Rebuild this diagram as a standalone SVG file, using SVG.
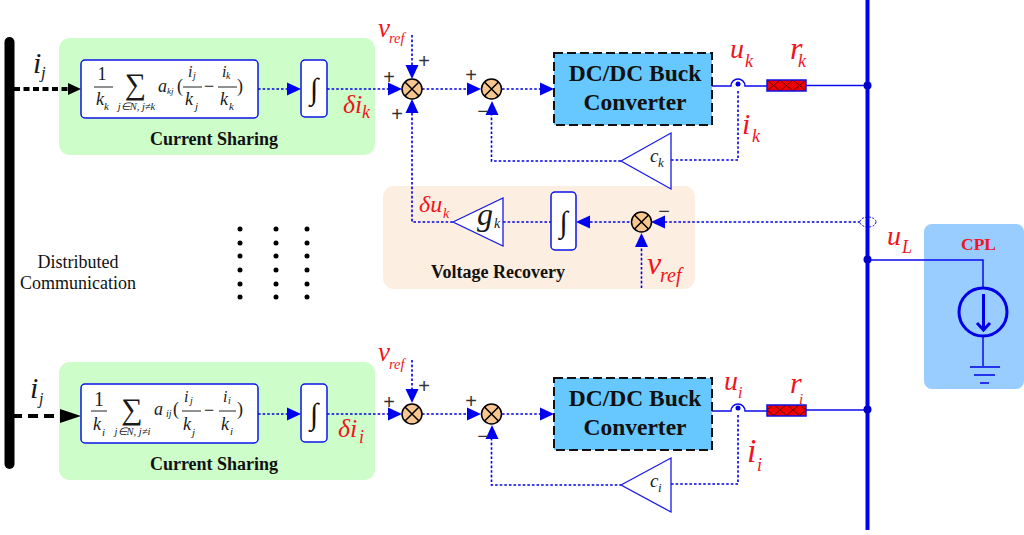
<svg xmlns="http://www.w3.org/2000/svg" width="1024" height="535" viewBox="0 0 1024 535">
<style>
text{font-family:"Liberation Serif","Times New Roman",serif}
.m{font-style:italic;fill:#1a1a1a}
.u{font-style:normal;fill:#1a1a1a}
.r{font-style:italic;fill:#f0141e}
.b{font-weight:bold;fill:#111}
.s{font-size:20px;fill:#333;text-anchor:middle;font-family:"Liberation Sans",Arial,sans-serif}
.bx{fill:#fff;stroke:#0a14e6;stroke-width:1.5}
.tri{fill:#fff;stroke:#1a1ae6;stroke-width:1.3}
.sum{fill:#f8c78f;stroke:#000;stroke-width:1.5}
.x{stroke:#000;stroke-width:1.5}
.dot{fill:none;stroke:#0000e6;stroke-width:1.6;stroke-dasharray:2.6 2}
.sol{fill:none;stroke:#0a0aee;stroke-width:1.5}
.blk{fill:none;stroke:#000;stroke-width:4}
.conv{fill:#66c8ff;stroke:#111;stroke-width:2;stroke-dasharray:9 4}
.ah{fill:#0000f0}
.g{fill:#cdfdc8}
</style>
<defs>
<pattern id="hatch" width="13" height="11" patternUnits="userSpaceOnUse" patternTransform="translate(767 80)">
<path d="M0 0L13 11M13 0L0 11" stroke="#400" stroke-width="0.8" fill="none"/>
</pattern>
<g id="sj"><circle r="10" class="sum"/><path class="x" d="M-7-7L7 7M7-7L-7 7"/></g>
<path id="ar" class="ah" d="M0 0L-14-6.500V6.500Z"/>
</defs>

<g id="bar"><rect x="4.500" y="37" width="10" height="432" rx="5" fill="#000"/></g>

<g id="cs-top"><rect class="g" x="59" y="38" width="316" height="117" rx="11"/>
<text class="b" x="214" y="145" font-size="18" text-anchor="middle">Current Sharing</text></g>
<g id="cs-bot"><rect class="g" x="59" y="362" width="316" height="118" rx="11"/>
<text class="b" x="214" y="470" font-size="18" text-anchor="middle">Current Sharing</text></g>
<g id="vr"><rect x="383" y="186" width="312" height="103" rx="11" fill="#fdeee2"/>
<text class="b" x="498" y="278" font-size="18" text-anchor="middle">Voltage Recovery</text></g>
<g id="cpl"><rect x="924" y="224" width="100" height="165" rx="8" fill="#99ccff"/>
<text x="978.500" y="250" font-size="17.500" font-weight="bold" fill="#f0141e" text-anchor="middle">CPL</text></g>

<g id="connectors">
<path class="blk" stroke-dasharray="6 3.500" d="M14 89H70"/>
<path class="blk" stroke-dasharray="10 6" d="M12 416H64"/>
<path d="M68 83L81 89L68 95Z" fill="#000"/>
<path d="M60 409L81 416L60 423Z" fill="#000"/>
<path class="dot" d="M258 89H288M327 89H388M422 89H478M502 89H540"/>
<path class="dot" d="M412 35V66M412 113V222H453"/>
<path class="dot" d="M491.500 113V161H621M671 160H738V90"/>
<path class="dot" d="M503 222H551M590 222H631M660 222H860M641.500 288V246"/>
<path class="dot" d="M258 414H288M327 414H388M422 414H478M502 414H540"/>
<path class="dot" d="M412 360V391M491.500 438V485H621M671 484H738V415"/>
<use href="#ar" x="301" y="89"/><use href="#ar" x="402" y="89"/><use href="#ar" x="481" y="89"/><use href="#ar" x="554" y="89"/>
<use href="#ar" transform="translate(412 79) rotate(90)"/><use href="#ar" transform="translate(412 99) rotate(-90)"/><use href="#ar" transform="translate(492 101) rotate(-90)"/>
<use href="#ar" x="301" y="414"/><use href="#ar" x="402" y="414"/><use href="#ar" x="481" y="414"/><use href="#ar" x="554" y="414"/>
<use href="#ar" transform="translate(412 403) rotate(90)"/><use href="#ar" transform="translate(492 425) rotate(-90)"/>
<use href="#ar" transform="translate(576 222) rotate(180)"/><use href="#ar" transform="translate(651 222) rotate(180)"/><use href="#ar" transform="translate(641.500 233) rotate(-90)"/>
<path class="sol" d="M712 86H731A7 7 0 0 1 745 86H767M806 85.500H867"/>
<path class="sol" d="M712 411H731A7 7 0 0 1 745 411H767M806 410H867"/>
<path class="sol" d="M867 260H983V287M983 336V366"/>
<path d="M867.500 0V530" stroke="#0000f0" stroke-width="4" fill="none"/>
<circle cx="867.500" cy="85.500" r="4" fill="#0000c8"/><circle cx="867.500" cy="409.500" r="4" fill="#0000c8"/><circle cx="867.500" cy="259.500" r="4" fill="#0000c8"/>
<circle cx="738" cy="84" r="2.500" fill="#0000e6"/><circle cx="738" cy="408" r="2.500" fill="#0000e6"/>
<ellipse cx="868" cy="222" rx="8" ry="5" fill="none" stroke="#0000e6" stroke-width="1" stroke-dasharray="2 1.500"/>
</g>

<g id="formula-top"><rect class="bx" x="81" y="60" width="177" height="58" rx="4"/>
<text class="u" x="102" y="80" font-size="18" text-anchor="middle">1</text>
<path d="M94 87H113" stroke="#222"/>
<text class="m" x="96" y="105" font-size="18">k</text><text class="m" x="104" y="110" font-size="11">k</text>
<text class="u" x="135.500" y="94" font-size="30" text-anchor="middle">∑</text>
<text class="m" x="136.500" y="110" font-size="10.500" text-anchor="middle">j∈N, j≠k</text>
<text class="m" x="158" y="92" font-size="18">a</text><text class="m" x="167" y="94" font-size="9">kj</text>
<text class="u" x="177" y="92" font-size="18">(</text>
<text class="m" x="188" y="77" font-size="16">i</text><text class="m" x="193" y="79" font-size="10">j</text>
<path d="M183 87H202M218 87H237" stroke="#222"/>
<text class="m" x="185" y="105" font-size="18">k</text><text class="m" x="195" y="110" font-size="11">j</text>
<text class="u" x="204" y="92" font-size="18">−</text>
<text class="m" x="222" y="77" font-size="16">i</text><text class="m" x="226" y="79" font-size="10">k</text>
<text class="m" x="220" y="105" font-size="18">k</text><text class="m" x="229" y="110" font-size="11">k</text>
<text class="u" x="237" y="92" font-size="18">)</text></g>

<g id="formula-bot"><rect class="bx" x="81" y="384" width="177" height="59" rx="4"/>
<text class="u" x="99" y="406" font-size="20" text-anchor="middle">1</text>
<path d="M91 411H107" stroke="#222"/>
<text class="m" x="93" y="430" font-size="18">k</text><text class="m" x="102" y="436" font-size="11">i</text>
<text class="u" x="132" y="419" font-size="30" text-anchor="middle">∑</text>
<text class="m" x="132.500" y="435" font-size="10.500" text-anchor="middle">j∈N, j≠i</text>
<text class="m" x="154" y="415" font-size="18">a</text><text class="m" x="166" y="417" font-size="10">ij</text>
<text class="u" x="173" y="415" font-size="18">(</text>
<text class="m" x="184" y="402" font-size="16">i</text><text class="m" x="190" y="404" font-size="10">j</text>
<path d="M182 411H201M219 411H236" stroke="#222"/>
<text class="m" x="183" y="430" font-size="18">k</text><text class="m" x="192" y="436" font-size="11">j</text>
<text class="u" x="204" y="416" font-size="18">−</text>
<text class="m" x="223" y="402" font-size="16">i</text><text class="m" x="228" y="404" font-size="10">i</text>
<text class="m" x="221" y="430" font-size="18">k</text><text class="m" x="230" y="435" font-size="11">i</text>
<text class="u" x="237" y="415" font-size="18">)</text></g>

<g id="int-top"><rect class="bx" x="301" y="60" width="26" height="57" rx="4"/><text x="314" y="99" font-size="30" text-anchor="middle" fill="#111">∫</text></g>
<g id="int-bot"><rect class="bx" x="301" y="384" width="26" height="58" rx="4"/><text x="314" y="424" font-size="30" text-anchor="middle" fill="#111">∫</text></g>
<g id="int-vr"><rect class="bx" x="551" y="192" width="25" height="58" rx="4"/><text x="563.500" y="232" font-size="30" text-anchor="middle" fill="#111">∫</text></g>

<g id="sum1"><use href="#sj" x="412" y="89"/></g>
<g id="sum2"><use href="#sj" x="491.500" y="89"/></g>
<g id="sum3"><use href="#sj" x="412" y="414"/></g>
<g id="sum4"><use href="#sj" x="491.500" y="414"/></g>
<g id="sum5"><use href="#sj" x="641.500" y="222"/></g>

<g id="conv-top"><rect class="conv" x="554" y="53" width="158" height="72"/>
<text class="b" x="635" y="81" font-size="23.500" text-anchor="middle">DC/DC Buck</text>
<text class="b" x="635" y="110" font-size="23.500" text-anchor="middle">Converter</text></g>
<g id="conv-bot"><rect class="conv" x="554" y="378" width="158" height="72"/>
<text class="b" x="635" y="406" font-size="23.500" text-anchor="middle">DC/DC Buck</text>
<text class="b" x="635" y="435" font-size="23.500" text-anchor="middle">Converter</text></g>

<g id="c-k"><path class="tri" d="M621 161L671 133V189Z"/><text class="m" x="650" y="162" font-size="19">c</text><text class="m" x="658" y="167" font-size="13">k</text></g>
<g id="c-i"><path class="tri" d="M621 485L671 458V512Z"/><text class="m" x="650" y="487" font-size="19">c</text><text class="m" x="658" y="492" font-size="13">i</text></g>
<g id="g-k"><path class="tri" d="M453 222L503 198V246Z"/><text class="m" x="477" y="225" font-size="32">g</text><text class="m" x="494" y="228" font-size="14">k</text></g>

<g id="res-top"><rect x="767" y="80" width="39" height="11" fill="#f00000"/><rect x="767" y="80" width="39" height="11" fill="url(#hatch)" stroke="#1010e6" stroke-width="1.500"/></g>
<g id="res-bot"><rect x="767" y="405" width="39" height="11" fill="#f00000"/><rect x="767" y="405" width="39" height="11" fill="url(#hatch)" stroke="#1010e6" stroke-width="1.500"/></g>

<g id="source"><circle cx="983" cy="312" r="24" fill="none" stroke="#0000e6" stroke-width="3"/>
<path d="M983.500 294V330M977 323L983.500 330L990 323" fill="none" stroke="#0000e6" stroke-width="3"/>
<path d="M970 367H1000M974 375H995M980 383H989" stroke="#0000e6" stroke-width="1.500"/></g>

<g id="labels">
<text class="m" x="33" y="73" font-size="30">i</text><text class="m" x="41" y="78" font-size="17">j</text>
<text class="m" x="30" y="398" font-size="30">i</text><text class="m" x="39" y="404" font-size="16">j</text>
<text x="78" y="268" font-size="18" fill="#111" text-anchor="middle">Distributed</text>
<text x="78" y="289" font-size="18" fill="#111" text-anchor="middle">Communication</text>
<text class="r" x="378" y="37" font-size="27">v</text><text class="r" x="389" y="43" font-size="14.500">ref</text>
<text class="r" x="378" y="361" font-size="27">v</text><text class="r" x="389" y="369" font-size="14.500">ref</text>
<text class="r" x="647" y="274" font-size="32">v</text><text class="r" x="660" y="282" font-size="20">ref</text>
<text class="r" x="343" y="113" font-size="26">δi</text><text class="r" x="362" y="118" font-size="18">k</text>
<text class="r" x="338" y="437" font-size="26">δi</text><text class="r" x="359" y="443" font-size="18">i</text>
<text class="r" x="419" y="212" font-size="24">δu</text><text class="r" x="443" y="218" font-size="14">k</text>
<text class="r" x="730" y="58" font-size="28">u</text><text class="r" x="745" y="67" font-size="18">k</text>
<text class="r" x="790" y="59" font-size="32">r</text><text class="r" x="798" y="67" font-size="18">k</text>
<text class="r" x="742" y="134" font-size="30">i</text><text class="r" x="752" y="142" font-size="18">k</text>
<text class="r" x="724" y="390" font-size="28">u</text><text class="r" x="738" y="398" font-size="16">i</text>
<text class="r" x="790" y="393" font-size="30">r</text><text class="r" x="799" y="404" font-size="15">i</text>
<text class="r" x="747" y="462" font-size="34">i</text><text class="r" x="757" y="471" font-size="18">i</text>
<text class="r" x="887" y="245" font-size="28">u</text><text class="r" x="902" y="253" font-size="18">L</text>
<text class="s" x="389" y="83.500">+</text><text class="s" x="424" y="67.500">+</text><text class="s" x="397" y="120.500">+</text>
<text class="s" x="471" y="81.500">+</text><text class="s" x="483" y="118">−</text>
<text class="s" x="389" y="408.500">+</text><text class="s" x="424" y="392.500">+</text>
<text class="s" x="471" y="407.500">+</text><text class="s" x="483" y="443">−</text>
<text class="s" x="664" y="218">−</text>
</g>

<g id="ellipsis" fill="#000">
<circle cx="240" cy="229" r="2.500"/><circle cx="240" cy="243" r="2.500"/><circle cx="240" cy="256" r="2.500"/><circle cx="240" cy="270" r="2.500"/><circle cx="240" cy="284" r="2.500"/><circle cx="240" cy="297" r="2.500"/>
<circle cx="276" cy="229" r="2.500"/><circle cx="276" cy="243" r="2.500"/><circle cx="276" cy="256" r="2.500"/><circle cx="276" cy="270" r="2.500"/><circle cx="276" cy="284" r="2.500"/><circle cx="276" cy="297" r="2.500"/>
<circle cx="307" cy="229" r="2.500"/><circle cx="307" cy="243" r="2.500"/><circle cx="307" cy="256" r="2.500"/><circle cx="307" cy="270" r="2.500"/><circle cx="307" cy="284" r="2.500"/><circle cx="307" cy="297" r="2.500"/>
</g>
</svg>
